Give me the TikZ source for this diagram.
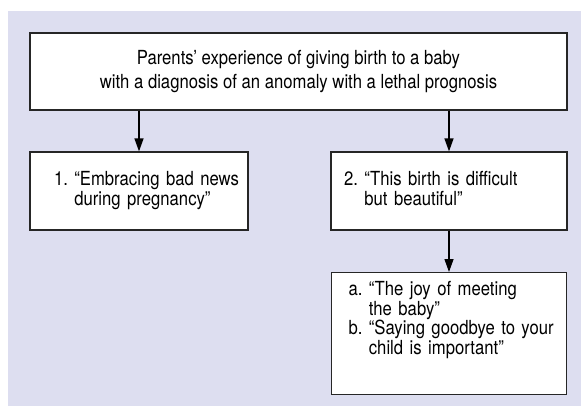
\documentclass[tikz,border=0pt]{standalone}
\usepackage{fontspec}
\setmainfont{TeX Gyre Heros}[FakeStretch=0.86]
\usetikzlibrary{positioning,arrows.meta}
\definecolor{panel}{RGB}{221,222,240}

\begin{document}
\begin{tikzpicture}[
        x=1pt, y=-1pt,
        every node/.style={font=\fontsize{19.4}{17.8}\selectfont},
        box/.style={rectangle, draw=black!85, line width=1.2pt, fill=white, inner ysep=0pt, align=left},
        arrow/.style={-{Triangle[width=9pt,length=13pt]}, line width=1.3pt, draw=black},
    ]
        \useasboundingbox (0,0) rectangle (581,406);
        \fill[panel] (8,11) rectangle (581,406);

        \node[box, align=center, minimum width=537pt, minimum height=77pt, font=\fontsize{19.4}{24}\selectfont] (experience) at (298.5,71.5) {
            Parents’ experience of giving birth to a baby\\
            with a diagnosis of an anomaly with a lethal prognosis
        };
        \node[box, text width=170pt, inner xsep=24pt, minimum height=78pt] (badnews) at (139,191) {
            \begin{tabular}{@{}l@{\ }l@{}}
                1. & “Embracing bad news\\
                   & during pregnancy”
            \end{tabular}
        };
        \node[box, text width=210pt, inner xsep=13pt, minimum height=78pt] (birth) at (449,191) {
            \begin{tabular}{@{}l@{\ }l@{}}
                2. & “This birth is difficult\\
                   & but beautiful”
            \end{tabular}
        };
        \node[box, text width=201pt, inner xsep=17pt, text height=23pt, text depth=99pt, anchor=north] (meeting) at (449,272) {
            \begin{tabular}[t]{@{}l@{\ }l@{}}
                a. & “The joy of meeting\\
                   & the baby”\\
                b. & “Saying goodbye to your\\
                   & child is important”
            \end{tabular}
        };

        \draw[arrow] (experience.south -| badnews.north) -- (badnews.north);
        \draw[arrow] (experience.south -| birth.north) -- (birth.north);
        \draw[arrow] (birth.south -| meeting.north) -- (meeting.north);

    \end{tikzpicture}
\end{document}
